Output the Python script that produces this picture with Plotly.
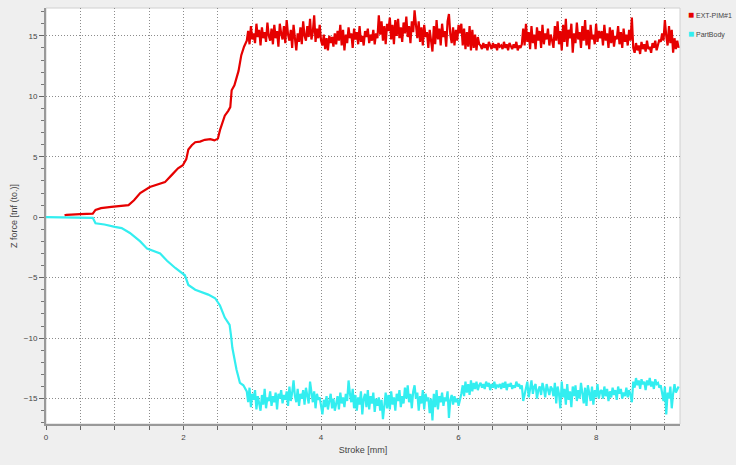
import numpy as np
import plotly.graph_objects as go

# --- Ramp-up portion (irregularly sampled) ---
ext_ramp_x = [0.27, 0.30, 0.50, 0.68, 0.72, 0.80, 0.95, 1.05, 1.20, 1.28, 1.37, 1.51, 1.62, 1.73,
              1.83, 1.92, 1.99, 2.04, 2.07, 2.12, 2.17, 2.24, 2.31, 2.39, 2.45, 2.50, 2.53, 2.60,
              2.65, 2.68, 2.70, 2.74, 2.80, 2.84, 2.88]
ext_ramp_y = [0.15, 0.2, 0.25, 0.3, 0.6, 0.75, 0.85, 0.9, 1.0, 1.4, 2.0, 2.5, 2.7, 2.9,
              3.5, 4.05, 4.3, 4.8, 5.6, 5.95, 6.2, 6.25, 6.4, 6.45, 6.35, 6.5, 7.2, 8.4,
              8.8, 9.1, 10.5, 10.9, 12.1, 13.4, 14.1]

part_ramp_x = [0.0, 0.68, 0.72, 0.85, 1.0, 1.1, 1.22, 1.37, 1.47, 1.56, 1.66, 1.76, 1.88, 2.02,
               2.07, 2.17, 2.36, 2.46, 2.53, 2.60, 2.67, 2.69, 2.71, 2.77, 2.82, 2.87]
part_ramp_y = [0.0, -0.05, -0.5, -0.6, -0.8, -0.9, -1.3, -2.0, -2.6, -2.8, -3.0, -3.6, -4.2, -4.8,
               -5.6, -6.0, -6.4, -6.7, -7.3, -8.3, -8.9, -9.75, -10.8, -12.6, -13.7, -13.9]

# --- Plateau portion, sampled every 0.02 mm starting at 2.92 mm ---
plateau_start = 2.92
plateau_step = 0.02

ext_plateau_y = [
    # 2.92 - 4.00
    14.6, 15.4, 14.3, 15.8, 14.7, 15.2, 14.4, 16.0, 14.9, 15.5, 14.2, 15.7, 14.8, 15.3, 14.5,
    16.1, 15.0, 14.6, 15.6, 14.3, 15.9, 14.8, 15.4, 14.1, 16.0, 15.2, 14.7, 15.8, 14.4, 16.3,
    15.1, 14.6, 15.5, 14.0, 15.9, 14.8, 13.8, 15.2, 14.5, 15.7, 14.3, 16.2, 15.0, 14.6, 15.8,
    14.9, 16.4, 14.7, 15.3, 16.7, 14.5, 15.6, 14.8, 15.9, 14.6,
    # 4.02 - 4.22
    14.2, 15.1, 13.9, 14.8, 13.8, 15.0, 14.4, 14.9, 14.1, 15.2, 14.3,
    # 4.24 - 4.82
    15.4, 14.6, 15.9, 14.2, 15.5, 13.8, 15.1, 14.4, 15.7, 14.8, 15.2, 14.0, 15.6, 14.7, 15.3,
    14.3, 15.8, 14.5, 15.0, 14.2, 15.4, 14.9, 15.6, 14.4, 15.1, 14.6, 15.5, 14.3, 15.2, 14.8,
    # 4.84 - 5.34
    16.7, 15.1, 16.2, 14.6, 15.8, 14.3, 16.0, 15.4, 16.5, 14.7, 15.9, 14.3, 16.3, 15.0, 16.4,
    14.8, 15.7, 14.5, 16.1, 15.2, 16.6, 14.9, 15.8, 14.4, 16.2, 15.3,
    # 5.36 - 5.38
    17.1, 15.9,
    # 5.40 - 5.62
    14.8, 16.2, 14.5, 15.7, 14.2, 15.9, 14.9, 15.3, 14.0, 15.5, 14.4, 13.7,
    # 5.64 - 6.02
    15.8, 14.3, 16.3, 14.7, 15.6, 14.2, 16.0, 14.9, 15.4, 14.1, 16.2, 16.8, 15.1, 14.4, 15.7,
    14.2, 15.5, 14.6, 15.9, 15.2,
    # 6.04 - 6.30
    16.0, 14.2, 15.6, 13.9, 15.3, 14.1, 15.8, 13.8, 15.5, 14.0, 15.1, 13.8, 14.9, 14.3,
    # 6.32 - 6.92
    14.2, 13.9, 14.4, 14.0, 14.3, 13.8, 14.5, 14.1, 13.9, 14.4, 14.0, 14.3, 13.8, 14.4, 14.1,
    14.2, 13.9, 14.5, 14.0, 14.3, 13.8, 14.4, 14.1, 13.9, 14.3, 14.0, 14.5, 13.8, 14.2, 14.0,
    14.3,
    # 6.94 - 7.36
    15.6, 14.2, 16.0, 14.5, 15.3, 13.9, 15.8, 14.4, 15.1, 13.9, 15.7, 14.6, 15.4, 14.0, 15.9,
    14.3, 15.2, 14.7, 15.6, 14.2, 15.1, 14.6,
    # 7.38 - 8.06
    14.0, 15.8, 14.6, 16.2, 14.3, 15.4, 13.8, 15.9, 14.5, 16.4, 14.1, 15.5, 14.8, 16.0, 13.6,
    15.2, 14.4, 16.1, 14.7, 15.3, 14.0, 15.8, 14.6, 16.3, 14.2, 15.5, 13.9, 15.9, 14.7, 15.1,
    14.3, 16.0, 14.5, 15.4, 14.8,
    # 8.08 - 8.52
    15.4, 14.2, 15.9, 14.6, 15.2, 14.0, 15.7, 14.4, 15.5, 14.1, 15.0, 14.7, 15.8, 14.3, 15.3,
    14.0, 15.6, 14.5, 15.1, 14.2, 15.5, 14.6, 16.5,
    # 8.54 - 8.92
    14.0, 13.6, 14.4, 13.8, 14.2, 13.5, 14.5, 13.9, 14.3, 13.7, 14.6, 13.9, 14.1, 13.6, 14.4,
    14.0, 14.6, 13.8, 14.3, 14.7,
    # 8.94 - 9.20
    14.5, 15.2, 14.6, 16.3, 15.0, 14.2, 15.8, 14.4, 15.5, 13.6, 14.8, 13.9, 14.6, 14.0,
]

part_plateau_y = [
    # 2.92 - 4.00
    -14.4, -15.3, -14.1, -15.7, -14.6, -15.1, -14.3, -15.9, -14.8, -15.4, -16.0, -14.7, -15.5, -14.2, -15.8,
    -14.9, -15.2, -14.4, -15.6, -14.8, -15.3, -14.5, -15.9, -14.6, -15.0, -14.3, -15.4, -14.7, -15.1, -14.4,
    -15.6, -14.0, -15.2, -14.5, -13.5, -14.8, -15.3, -14.2, -15.6, -14.6, -15.0, -14.3, -15.5, -14.1, -14.9,
    -15.4, -13.6, -14.7, -15.3, -14.4, -15.8, -14.6, -15.1, -14.9, -15.5,
    # 4.02 - 4.22
    -16.3, -15.1, -15.7, -14.8, -15.9, -15.2, -14.6, -15.8, -15.0, -16.0, -15.3,
    # 4.24 - 4.82
    -14.8, -15.9, -14.5, -15.4, -14.9, -15.7, -14.6, -15.2, -13.5, -14.6, -15.3, -14.2, -15.8, -14.7, -16.0,
    -14.9, -15.5, -14.4, -16.3, -15.0, -14.6, -15.7, -14.3, -15.9, -14.8, -15.4, -14.5, -16.1, -15.0, -15.6,
    # 4.84 - 5.34
    -14.9, -16.0, -15.1, -16.7, -15.3, -14.5, -15.8, -14.7, -15.9, -14.4, -15.5, -14.9, -16.0, -14.6, -15.2,
    -14.3, -15.7, -14.8, -15.4, -14.1, -15.0, -13.9, -15.3, -14.6, -15.8, -14.4,
    # 5.36 - 5.38
    -13.9, -15.0,
    # 5.40 - 5.62
    -14.5, -16.0, -14.8, -15.4, -14.3, -15.9, -14.6, -15.2, -14.9, -16.2, -15.0, -16.8,
    # 5.64 - 6.02
    -14.6, -15.7, -14.3, -15.9, -14.8, -15.3, -14.5, -15.6, -14.9, -15.2, -14.4, -16.6, -15.1, -14.7, -15.5,
    -14.8, -15.3, -15.0, -15.6, -15.2,
    # 6.04 - 6.30
    -14.6, -13.9, -14.8, -13.6, -14.5, -13.8, -14.7, -13.5, -14.4, -13.7, -14.2, -13.6, -14.3, -13.9,
    # 6.32 - 6.92
    -13.7, -14.1, -13.8, -14.2, -13.6, -14.0, -13.7, -14.3, -13.8, -14.1, -13.6, -14.2, -13.9, -14.0, -13.8,
    -14.2, -13.7, -14.1, -13.6, -14.3, -13.8, -14.0, -13.7, -14.2, -13.9, -14.1, -13.6, -14.0, -13.8, -14.2,
    -13.9,
    # 6.94 - 7.36
    -15.2, -14.6, -14.0, -13.6, -14.9, -14.1, -13.5, -14.6, -14.0, -13.8, -15.0, -14.3, -14.0, -14.7, -13.7,
    -14.2, -14.9, -13.8, -14.4, -14.7, -14.0, -14.2,
    # 7.38 - 8.06
    -14.8, -13.7, -15.4, -14.0, -14.6, -15.8, -13.6, -14.9, -14.2, -15.5, -13.8, -15.1, -14.4, -15.7, -14.0,
    -14.8, -13.9, -15.2, -14.3, -15.0, -13.7, -14.6, -15.4, -14.1, -15.6, -13.9, -14.7, -15.2, -14.0, -15.5,
    -14.3, -14.9, -13.8, -15.0, -14.4,
    # 8.08 - 8.52
    -14.3, -15.0, -14.0, -14.8, -14.2, -15.2, -14.4, -14.9, -14.1, -14.7, -14.3, -15.1, -14.0, -14.6, -14.2,
    -15.0, -14.5, -14.8, -14.1, -14.9, -14.3, -14.7, -15.3,
    # 8.54 - 8.92
    -13.6, -14.1, -13.3, -13.9, -13.5, -14.2, -13.4, -13.8, -13.6, -14.3, -13.5, -13.9, -13.3, -14.0, -13.6,
    -14.2, -13.4, -13.8, -13.7, -14.1,
    # 8.94 - 9.20
    -13.9, -14.6, -15.2, -14.0, -16.3, -14.5, -15.0, -14.0, -15.8, -14.6, -13.8, -14.5, -14.2, -14.0,
]

series_names = ["EXT-PIM#1", "PartBody"]
series_colors = ["#e60000", "#33eef0"]

x_tick_vals = [i * 0.5 for i in range(19)]
x_tick_text = [str(int(v)) if v % 2 == 0 else "" for v in x_tick_vals]
y_tick_vals = [-15, -10, -5, 0, 5, 10, 15]


def stroke_positions(n):
    return list(np.round(plateau_start + plateau_step * np.arange(n), 2))


ext_x = ext_ramp_x + stroke_positions(len(ext_plateau_y))
ext_y = ext_ramp_y + ext_plateau_y
part_x = part_ramp_x + stroke_positions(len(part_plateau_y))
part_y = part_ramp_y + part_plateau_y

fig = go.Figure()
fig.add_trace(go.Scatter(x=ext_x, y=ext_y, mode="lines", name=series_names[0],
                         line=dict(color=series_colors[0], width=2.2), showlegend=False))
fig.add_trace(go.Scatter(x=part_x, y=part_y, mode="lines", name=series_names[1],
                         line=dict(color=series_colors[1], width=2.2), showlegend=False))

# Legend drawn as colored squares with labels on the right
for i, (name, col) in enumerate(zip(series_names, series_colors)):
    fig.add_annotation(
        xref="paper", yref="paper", x=1.01, y=0.985 - i * 0.046,
        xanchor="left", yanchor="middle", showarrow=False,
        text=f"<span style='color:{col};font-size:10px'>■</span> {name}",
        font=dict(family="Liberation Sans", size=7, color="#444"),
    )

grid_style = dict(showgrid=True, gridcolor="#8c8c8c", griddash="1px,2px", gridwidth=1)

fig.update_layout(
    width=736, height=465,
    margin=dict(l=46, r=56, t=8, b=41),
    paper_bgcolor="#efefef", plot_bgcolor="#ffffff",
    font=dict(family="Liberation Sans", size=8, color="#444"),
    xaxis=dict(
        range=[0, 9.22], tickmode="array", tickvals=x_tick_vals, ticktext=x_tick_text,
        ticks="outside", ticklen=4, tickcolor="#666",
        showline=True, linecolor="#999", linewidth=2, mirror=False,
        zeroline=False,
        title=dict(text="Stroke [mm]", font=dict(size=9, color="#444"), standoff=6),
        **grid_style,
    ),
    yaxis=dict(
        range=[-17.1, 17.3], tickmode="array", tickvals=y_tick_vals,
        ticks="outside", ticklen=5, tickcolor="#666",
        minor=dict(dtick=1, ticks="outside", ticklen=3, tickcolor="#777", showgrid=False),
        showline=True, linecolor="#999", linewidth=2,
        zeroline=False,
        title=dict(text="Z force [tnf (to.)]", font=dict(size=9, color="#444"), standoff=5),
        **grid_style,
    ),
    shapes=[dict(type="rect", xref="paper", yref="paper", x0=0, y0=0, x1=1, y1=1,
                 line=dict(color="#d0d0d0", width=1), layer="below")],
)

fig.write_html("out.html")
